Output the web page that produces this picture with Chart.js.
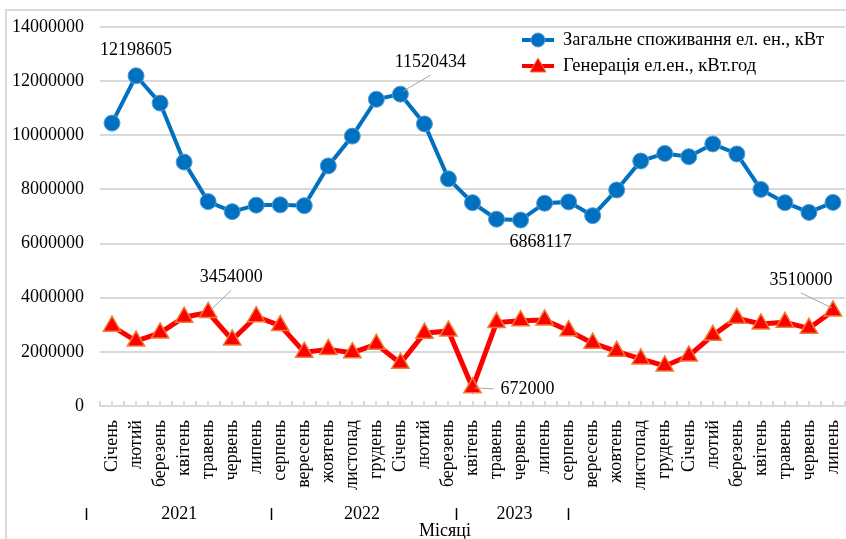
<!DOCTYPE html>
<html>
<head>
<meta charset="utf-8">
<script src="https://cdn.jsdelivr.net/npm/chart.js@4.4.0/dist/chart.umd.min.js"></script>
<style>
  html, body { margin: 0; padding: 0; background: #fff; }
  #wrap { width: 846px; height: 539px; }
</style>
</head>
<body>
<div id="wrap"><canvas id="chart" width="846" height="539"></canvas></div>
<script>
/* ---- data ---- */
const months = [
  'Січень', 'лютий', 'березень', 'квітень', 'травень', 'червень', 'липень', 'серпень',
  'вересень', 'жовтень', 'листопад', 'грудень',
  'Січень', 'лютий', 'березень', 'квітень', 'травень', 'червень', 'липень', 'серпень',
  'вересень', 'жовтень', 'листопад', 'грудень',
  'Січень', 'лютий', 'березень', 'квітень', 'травень', 'червень', 'липень'
];

// Загальне споживання ел. ен., кВт
const consumption = [
  10450000, 12198605, 11190000, 9010000, 7550000, 7180000, 7420000, 7430000,
  7400000, 8870000, 9970000, 11330000,
  11520434, 10420000, 8390000, 7510000, 6900000, 6868117, 7490000, 7540000,
  7030000, 7980000, 9050000, 9330000,
  9210000, 9680000, 9310000, 8000000, 7510000, 7150000, 7520000
];

// Генерація ел.ен., кВт.год
const generation = [
  2950000, 2400000, 2700000, 3280000, 3454000, 2440000, 3300000, 2970000,
  1990000, 2090000, 1970000, 2280000,
  1580000, 2690000, 2770000, 672000, 3080000, 3150000, 3180000, 2780000,
  2320000, 2020000, 1740000, 1480000,
  1850000, 2610000, 3240000, 3030000, 3090000, 2870000, 3510000
];

const seriesNames = ['Загальне споживання ел. ен., кВт', 'Генерація ел.ен., кВт.год'];
const yTicks = [0, 2000000, 4000000, 6000000, 8000000, 10000000, 12000000, 14000000];

// year group labels (Excel multi-level axis, positions in category units)
const years = ['2021', '2022', '2023'];
const yearAt = [2.8, 10.4, 16.75];
const yearSep = [-1.08, 6.63, 14.3, 18.96];
const axisTitle = 'Місяці';

// labelled points: [dataset, index, dx, dy, leader?]
const callouts = [
  [0, 1, 0, -26, false],
  [0, 12, 30, -32, true],
  [0, 17, 20, 22, false],
  [1, 4, 23, -35, true],
  [1, 15, 55, 1, true],
  [1, 30, -32, -31, true]
];

/* ---- look ---- */
const FONT = '"Liberation Serif", "Times New Roman", serif';
const BLUE = '#0070C0', RED = '#FF0000';
const GRID = '#d9d9d9';

/* ---- plugins ---- */
const frame = {
  id: 'frame',
  beforeDraw(c) {
    const g = c.ctx;
    g.save();
    g.strokeStyle = GRID; g.lineWidth = 2;
    g.beginPath();
    g.moveTo(6, c.height); g.lineTo(6, 10); g.lineTo(c.width, 10);
    g.stroke();
    g.restore();
  }
};

const extras = {
  id: 'extras',
  afterDatasetsDraw(c) {
    const g = c.ctx, x = c.scales.x, y = c.scales.y, a = c.chartArea;
    g.save();

    // minor ticks on the category axis
    g.strokeStyle = GRID; g.lineWidth = 2;
    for (let i = -0.5; i <= months.length - 0.5; i += 0.5) {
      const px = Math.round(x.getPixelForValue(i));
      g.beginPath(); g.moveTo(px, a.bottom); g.lineTo(px, a.bottom - 5); g.stroke();
    }

    // callouts
    g.font = '18px ' + FONT;
    g.fillStyle = '#000';
    g.textAlign = 'center'; g.textBaseline = 'middle';
    callouts.forEach(([ds, i, dx, dy, leader]) => {
      const v = c.data.datasets[ds].data[i];
      const px = x.getPixelForValue(i), py = y.getPixelForValue(v);
      const tx = px + dx, ty = py + dy;
      if (leader) {
        g.strokeStyle = '#a6a6a6'; g.lineWidth = 1;
        g.beginPath();
        if (Math.abs(dy) < 5) {
          g.moveTo(tx - 34, ty); g.lineTo(px + 2, py);
        } else {
          g.moveTo(tx, ty + (dy < 0 ? 13 : -13));
          g.lineTo(px + (dx > 0 ? 3 : -1), py + (dy < 0 ? -3 : 3));
        }
        g.stroke();
      }
      g.fillText(String(v), tx, ty);
    });

    // year labels and separators
    years.forEach((t, k) => g.fillText(t, x.getPixelForValue(yearAt[k]), 514));
    g.strokeStyle = '#000'; g.lineWidth = 1.5;
    yearSep.forEach(s => {
      const px = Math.round(x.getPixelForValue(s)) + 0.5;
      g.beginPath(); g.moveTo(px, 508); g.lineTo(px, 520); g.stroke();
    });
    g.fillText(axisTitle, 445, 531);

    // legend
    const lx = 522, rows = [40, 66];
    g.font = '18.5px ' + FONT;
    c.data.datasets.forEach((d, k) => {
      const ly = rows[k];
      g.strokeStyle = d.borderColor; g.lineWidth = 4;
      g.beginPath(); g.moveTo(lx, ly); g.lineTo(lx + 32, ly); g.stroke();
      g.fillStyle = d.pointBackgroundColor;
      g.strokeStyle = d.pointBorderColor; g.lineWidth = 1;
      g.beginPath();
      if (k === 0) {
        g.arc(lx + 16, ly, 7, 0, Math.PI * 2);
      } else {
        g.moveTo(lx + 16, ly - 8); g.lineTo(lx + 24, ly + 6); g.lineTo(lx + 8, ly + 6); g.closePath();
      }
      g.fill(); g.stroke();
      g.fillStyle = '#000'; g.textAlign = 'left';
      g.fillText(d.label, lx + 41, ly);
    });
    g.restore();
  }
};

// keep the plot area flush with the right edge despite rotated labels
const noSidePad = s => {
  s.height = 133;
  s.paddingLeft = 0; s.paddingRight = 0;
};

/* ---- chart ---- */
new Chart(document.getElementById('chart'), {
  type: 'line',
  data: {
    labels: months,
    datasets: [
      {
        label: seriesNames[0],
        data: consumption,
        borderColor: BLUE,
        borderWidth: 4,
        pointStyle: 'circle',
        pointRadius: 8,
        pointBackgroundColor: BLUE,
        pointBorderColor: '#5b9bd5',
        pointBorderWidth: 1,
        tension: 0
      },
      {
        label: seriesNames[1],
        data: generation,
        borderColor: RED,
        borderWidth: 5,
        pointStyle: 'triangle',
        pointRadius: 10,
        pointBackgroundColor: RED,
        pointBorderColor: '#ED7D31',
        pointBorderWidth: 1.5,
        tension: 0
      }
    ]
  },
  options: {
    responsive: false,
    animation: false,
    layout: { autoPadding: false, padding: { left: 0, top: 27, right: 1, bottom: 0 } },
    plugins: { legend: { display: false }, tooltip: { enabled: false } },
    scales: {
      x: {
        offset: true,
        grid: { display: false },
        border: { display: true, color: GRID, width: 2 },
        ticks: {
          autoSkip: false, maxRotation: 90, minRotation: 90, padding: 6,
          color: '#000', font: { family: FONT, size: 18 }
        },
        afterFit: noSidePad
      },
      y: {
        min: 0, max: 14000000,
        afterBuildTicks: s => { s.ticks = yTicks.map(v => ({ value: v })); },
        grid: { color: GRID, lineWidth: 2, drawTicks: false },
        border: { display: false },
        ticks: {
          padding: 16, color: '#000', font: { family: FONT, size: 18 },
          callback: v => String(v)
        },
        afterFit: s => { s.width = 100; }
      }
    }
  },
  plugins: [frame, extras]
});
</script>
</body>
</html>
